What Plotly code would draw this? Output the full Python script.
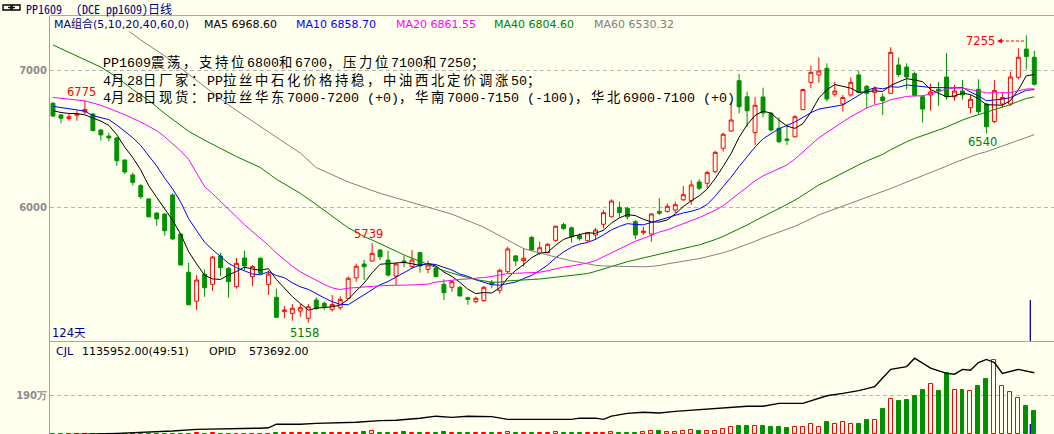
import plotly.graph_objects as go

# ------------------------------------------------------------------ data
days = list(range(124))

opens = [6759, 6674, 6647, 6672, 6696, 6681, 6564, 6520, 6506, 6345,
         6236, 6158, 6061, 5958, 5951, 6090, 5805, 5526, 5314, 5511,
         5438, 5645, 5555, 5421, 5630, 5494, 5628, 5438, 5343, 5238,
         5226, 5243, 5190, 5323, 5299, 5255, 5267, 5336, 5485, 5586,
         5608, 5688, 5615, 5498, 5608, 5567, 5669, 5547, 5555, 5438,
         5416, 5416, 5340, 5311, 5318, 5450, 5394, 5530, 5645, 5611,
         5780, 5664, 5669, 5759, 5874, 5850, 5793, 5756, 5798, 5876,
         5931, 6000, 5993, 5895, 5815, 5805, 5970, 5970, 5980, 6055,
         6048, 6185, 6175, 6260, 6431, 6557, 6924, 6807, 6545, 6805,
         6686, 6577, 6499, 6515, 6713, 6912, 6966, 7015, 6825, 6754,
         6820, 6966, 6883, 6839, 6805, 6832, 7039, 7024, 6976, 6807,
         6820, 6861, 6951, 6807, 6849, 6727, 6861, 6754, 6626, 6754,
         6754, 6949, 7155, 7095]
highs = [6769, 6681, 6681, 6705, 6775, 6688, 6570, 6545, 6513, 6350,
         6253, 6170, 6066, 5962, 5955, 6102, 5810, 5596, 5506, 5547,
         5645, 5669, 5564, 5630, 5683, 5579, 5635, 5537, 5406, 5279,
         5294, 5294, 5294, 5343, 5311, 5360, 5350, 5495, 5589, 5615,
         5739, 5696, 5683, 5591, 5645, 5688, 5676, 5611, 5560, 5474,
         5469, 5426, 5348, 5348, 5426, 5469, 5552, 5713, 5652, 5701,
         5791, 5749, 5739, 5867, 5888, 5859, 5810, 5820, 5851, 5980,
         6058, 6041, 6004, 5907, 5859, 5957, 6066, 6029, 6041, 6155,
         6197, 6204, 6267, 6413, 6545, 6763, 6973, 6844, 6805, 6873,
         6696, 6657, 6606, 6674, 6866, 7034, 7095, 7051, 6915, 6820,
         6949, 6997, 6893, 6883, 6832, 7168, 7095, 7051, 6990, 6820,
         6902, 6915, 7127, 6893, 6929, 6820, 6934, 6763, 6929, 6836,
         6990, 7161, 7255, 7144]
lows = [6660, 6613, 6632, 6632, 6681, 6555, 6486, 6482, 6301, 6243,
        6161, 6061, 5925, 5866, 5793, 5761, 5575, 5285, 5250, 5347,
        5390, 5499, 5340, 5406, 5542, 5425, 5510, 5360, 5192, 5190,
        5172, 5201, 5158, 5250, 5250, 5238, 5250, 5330, 5457, 5469,
        5603, 5615, 5494, 5433, 5562, 5555, 5523, 5518, 5490, 5323,
        5384, 5350, 5289, 5299, 5311, 5409, 5369, 5518, 5572, 5567,
        5683, 5652, 5664, 5749, 5834, 5742, 5756, 5749, 5761, 5846,
        5926, 5926, 5912, 5766, 5798, 5749, 5943, 5961, 5957, 6047,
        6018, 6126, 6139, 6248, 6406, 6552, 6686, 6588, 6455, 6657,
        6552, 6467, 6455, 6510, 6710, 6869, 6910, 6771, 6807, 6698,
        6807, 6832, 6723, 6754, 6674, 6827, 6951, 6861, 6807, 6618,
        6706, 6740, 6786, 6778, 6786, 6686, 6674, 6540, 6613, 6729,
        6739, 6934, 7007, 6888]
closes = [6666, 6650, 6661, 6681, 6715, 6560, 6528, 6506, 6340, 6258,
          6182, 6077, 5931, 5915, 5829, 5769, 5579, 5289, 5469, 5413,
          5637, 5559, 5457, 5591, 5572, 5567, 5518, 5513, 5197, 5250,
          5263, 5267, 5274, 5263, 5274, 5291, 5328, 5482, 5570, 5566,
          5664, 5639, 5505, 5586, 5596, 5615, 5572, 5579, 5494, 5377,
          5457, 5353, 5328, 5336, 5416, 5438, 5540, 5696, 5608, 5628,
          5688, 5705, 5730, 5862, 5845, 5785, 5771, 5813, 5834, 5961,
          6046, 5961, 5931, 5798, 5826, 5951, 5957, 6007, 6019, 6092,
          6163, 6139, 6253, 6401, 6533, 6637, 6734, 6705, 6745, 6688,
          6564, 6479, 6489, 6661, 6860, 6985, 6995, 6791, 6849, 6801,
          6912, 6839, 6832, 6866, 6778, 7131, 6969, 6951, 6817, 6717,
          6842, 6849, 6807, 6849, 6820, 6788, 6698, 6588, 6852, 6801,
          6951, 7095, 7101, 6898]

volumes = [12000, 10000, 9000, 11000, 14000, 13000, 10000, 9000, 15000, 12000,
           11000, 10000, 13000, 9000, 12000, 15000, 14000, 15000, 50000, 15000,
           50000, 15000, 14000, 15000, 13000, 15000, 14000, 15000, 55000, 50000,
           55000, 50000, 55000, 50000, 55000, 50000, 55000, 50000, 55000, 125000,
           175000, 55000, 50000, 55000, 110000, 50000, 55000, 50000, 55000, 100000,
           50000, 55000, 50000, 55000, 50000, 55000, 50000, 100000, 50000, 55000,
           50000, 55000, 50000, 100000, 55000, 50000, 55000, 50000, 55000, 50000,
           100000, 55000, 50000, 55000, 100000, 175000, 150000, 100000, 100000, 150000,
           210000, 150000, 150000, 150000, 260000, 340000, 400000, 400000, 404000, 404000,
           355000, 355000, 307000, 355000, 355000, 487000, 355000, 600000, 487000, 584000,
           487000, 487000, 696000, 696000, 1232000, 1705000, 1622000, 1670000, 1865000, 2157000,
           2450000, 2109000, 2971000, 2157000, 2157000, 2109000, 2352000, 2693000, 3618000, 2352000,
           2060000, 1753000, 1378000, 1135952]

opid_days = [0, 8, 15, 18, 26, 27, 28, 31, 33, 38,
             41, 43, 46, 48, 50, 52, 55, 57, 65, 66,
             68, 69, 70, 72, 74, 76, 78, 80, 83, 85,
             87, 89, 91, 94, 97, 99, 101, 103, 105, 107,
             108, 110, 112, 113, 114, 115, 116, 117, 118, 119,
             121, 123]
opid_values = [418000, 422000, 428000, 432000, 435000, 436000, 445000, 445000, 447000, 450000,
               454000, 455000, 460000, 465000, 462000, 465000, 464000, 457000, 457000, 460000,
               460000, 457000, 465000, 472000, 475000, 473000, 477000, 480000, 484000, 487000,
               490000, 490000, 497000, 497000, 516000, 522000, 529000, 539000, 582000, 589000,
               610000, 585000, 572000, 570000, 582000, 580000, 599000, 607000, 599000, 572000,
               582000, 573692]

# moving-average values read off the chart where the window reaches back
# before the first visible day
ma5_lead_days = [0, 1, 2, 3]
ma5_lead = [6705, 6692, 6685, 6684]
ma10_lead_days = [0, 1, 2, 3, 4, 5, 6, 7, 8]
ma10_lead = [6737, 6727, 6720, 6712, 6702, 6669, 6652, 6640, 6600]
ma20_lead_days = [0, 4, 6, 8, 9, 11, 13, 14, 16, 17, 18]
ma20_lead = [6802, 6777, 6745, 6700, 6676, 6622, 6560, 6515, 6412, 6350, 6250]
ma40_lead_days = [0, 2, 4, 6, 8, 10, 12, 14, 17, 19, 23, 26, 28, 31, 33, 35, 37, 38]
ma40_lead = [7185, 7130, 7080, 7023, 6950, 6860, 6780, 6685, 6555, 6490,
             6370, 6290, 6205, 6102, 6020, 5935, 5850, 5820]
ma60_lead_days = [5, 7, 9, 11, 14, 18, 22, 27, 31, 33, 35, 37, 41, 45, 50, 54]
ma60_lead = [7470, 7395, 7309, 7221, 7105, 6929, 6747, 6550, 6396, 6290,
             6240, 6185, 6102, 6035, 5950, 5855]

price_ticks = [6000, 7000]
price_tick_text = ["6000", "7000"]
vol_ticks = [1900000]
vol_tick_text = ["190万"]

title_code = "PP1609"
title_rest = "(DCE pp1609)日线"
ma_header_texts = ["MA组合(5,10,20,40,60,0)", "MA5 6968.60", "MA10 6858.70",
                   "MA20 6861.55", "MA40 6804.60", "MA60 6530.32"]
vol_header_texts = ["CJL", "1135952.00(49:51)", "OPID", "573692.00"]
note_lines = ["PP1609震荡，支持位6800和6700，压力位7100和7250；",
              "4月28日厂家：PP拉丝中石化价格持稳，中油西北定价调涨50；",
              "4月28日现货：PP拉丝华东7000-7200 (+0)，华南7000-7150 (-100)，华北6900-7100 (+0)"]
days_label = "124天"
high_labels = [(4, 6775), (40, 5739), (122, 7255)]
low_labels = [(32, 5158), (117, 6540)]

# ------------------------------------------------------------------ style / calibration
W, H = 1054, 434
BG = "#FFFFEE"
RED = "#FF0000"
GREEN = "#009000"
NAVY = "#000080"
MA_COLORS = ["#000000", "#0000FF", "#FF00FF", "#008000", "#808080"]
SANS = "DejaVu Sans, Noto Sans CJK SC"
MONO_CJK = "Noto Sans Mono CJK SC, Noto Sans CJK SC, Liberation Mono"
NOTE_FONT = "Liberation Mono, Noto Sans Mono CJK SC, Noto Sans CJK SC"
NOTE_SIZE = 13.33          # Latin cell 8 px
CJK_EXTRA = 2.67           # extra spacing so CJK cells are 16 px

X0_PX, PX_PER_DAY = 53.0, 7.978        # pixel x of day 0, pixels per day
Y7000_PX, PX_PER_PT = 70.3, 0.137      # pixel y of 7000, pixels per price point
VOL_ZERO_PX, VOL_PER_PX = 434.3, 48700.0
OPID_REF_PX, OPID_REF, OPID_PER_PX = 372.7, 573692.0, 2500.0
PLOT_L, PLOT_T, SPLIT = 50, 16, 341


def day_at(px):
    return (px - X0_PX) / PX_PER_DAY


def price_at(py):
    return 7000 - (py - Y7000_PX) / PX_PER_PT


def vol_at(py):
    return (VOL_ZERO_PX - py) * VOL_PER_PX


def opid_at(py):
    return OPID_REF + (OPID_REF_PX - py) * OPID_PER_PX


def pxx(px):
    return px / W


def pxy(py):
    return 1 - py / H


def rolling_mean(vals, n):
    return [sum(vals[k - n + 1:k + 1]) / n for k in range(n - 1, len(vals))]


def widen_cjk(s):
    out, run = [], ""
    for ch in s:
        if ord(ch) > 127:
            run += ch
        else:
            if run:
                out.append('<span style="letter-spacing:%.2fpx">%s</span>' % (CJK_EXTRA, run))
                run = ""
            out.append(ch)
    if run:
        out.append('<span style="letter-spacing:%.2fpx">%s</span>' % (CJK_EXTRA, run))
    return "".join(out)


fig = go.Figure()

# candles
fig.add_trace(go.Candlestick(
    x=days, open=opens, high=highs, low=lows, close=closes,
    increasing=dict(line=dict(color=RED, width=1), fillcolor=BG),
    decreasing=dict(line=dict(color=GREEN, width=1), fillcolor=GREEN),
    whiskerwidth=0, hoverinfo="skip", xaxis="x", yaxis="y"))

# moving averages
ma_specs = [(5, ma5_lead_days, ma5_lead), (10, ma10_lead_days, ma10_lead),
            (20, ma20_lead_days, ma20_lead), (40, ma40_lead_days, ma40_lead),
            (60, ma60_lead_days, ma60_lead)]
for (n, lead_days, lead_vals), col in zip(ma_specs, MA_COLORS):
    xs = list(lead_days) + list(range(n - 1, len(closes)))
    ys = list(lead_vals) + rolling_mean(closes, n)
    fig.add_trace(go.Scatter(x=xs, y=ys, mode="lines", line=dict(color=col, width=1),
                             hoverinfo="skip", xaxis="x", yaxis="y"))

# volume bars
up = [c >= o for o, c in zip(opens, closes)]
fig.add_trace(go.Bar(
    x=days, y=volumes, width=0.5,
    marker=dict(color=[BG if u else GREEN for u in up],
                line=dict(color=[RED if u else GREEN for u in up], width=1)),
    hoverinfo="skip", xaxis="x2", yaxis="y2"))

# open interest line
fig.add_trace(go.Scatter(x=opid_days, y=opid_values, mode="lines",
                         line=dict(color="#000000", width=1.4),
                         hoverinfo="skip", xaxis="x2", yaxis="y3"))

axis_common = dict(showgrid=True, gridcolor="#B4B4B4", griddash="4px,3px", gridwidth=1,
                   zeroline=False, ticks="", showline=True, linecolor="#A0A0A0", linewidth=1,
                   tickfont=dict(family="DejaVu Sans", size=10, color="#8C8C8C", weight="bold"),
                   fixedrange=True)

fig.update_layout(
    width=W, height=H, margin=dict(l=0, r=0, t=0, b=0),
    paper_bgcolor=BG, plot_bgcolor=BG, showlegend=False, bargap=0,
    xaxis=dict(domain=[PLOT_L / W, 1], range=[day_at(PLOT_L), day_at(W)],
               showticklabels=False, showgrid=False, zeroline=False, showline=False,
               rangeslider=dict(visible=False), anchor="y", fixedrange=True),
    xaxis2=dict(domain=[PLOT_L / W, 1], matches="x", showticklabels=False, showgrid=False,
                zeroline=False, showline=False, anchor="y2", fixedrange=True),
    yaxis=dict(domain=[(H - SPLIT) / H, (H - PLOT_T) / H],
               range=[price_at(SPLIT), price_at(PLOT_T)],
               tickvals=price_ticks, ticktext=price_tick_text, anchor="x", **axis_common),
    yaxis2=dict(domain=[0, (H - SPLIT) / H], range=[vol_at(H), vol_at(SPLIT)],
                tickvals=vol_ticks, ticktext=vol_tick_text, anchor="x2", **axis_common),
    yaxis3=dict(overlaying="y2", anchor="x2", range=[opid_at(H), opid_at(SPLIT)],
                visible=False, fixedrange=True),
)

shapes = [
    dict(type="line", xref="paper", yref="paper", x0=pxx(PLOT_L), x1=1,
         y0=pxy(15.5), y1=pxy(15.5), line=dict(color="#A8A8A8", width=1)),
    dict(type="line", xref="paper", yref="paper", x0=pxx(PLOT_L), x1=1,
         y0=pxy(341.5), y1=pxy(341.5), line=dict(color="#A8A8A8", width=1)),
    # cursor marker
    dict(type="line", xref="x", yref="y", x0=122.5, x1=122.5,
         y0=price_at(SPLIT), y1=price_at(300), line=dict(color="#0000A0", width=1.3)),
    dict(type="line", xref="x2", yref="y2", x0=122.5, x1=122.5,
         y0=vol_at(H), y1=vol_at(424), line=dict(color="#0000A0", width=1.3)),
    # link icon
    dict(type="rect", xref="paper", yref="paper", x0=pxx(3), x1=pxx(11), y0=pxy(10), y1=pxy(5),
         line=dict(color="#000000", width=1.4)),
    dict(type="rect", xref="paper", yref="paper", x0=pxx(12), x1=pxx(20), y0=pxy(10), y1=pxy(5),
         line=dict(color="#000000", width=1.4)),
    dict(type="line", xref="paper", yref="paper", x0=pxx(8), x1=pxx(15), y0=pxy(7.5), y1=pxy(7.5),
         line=dict(color="#000000", width=1.4)),
    # dashed pointer toward the 7255 label
    dict(type="line", xref="x", yref="y", x0=day_at(1001), x1=day_at(1024),
         y0=price_at(41), y1=price_at(41), line=dict(color=RED, width=1, dash="3px,2px")),
]

ann = []


def text_at(text, x_px, y_px, color, size, family, xanchor="left", bg=None):
    a = dict(text=text, xref="paper", yref="paper", x=pxx(x_px), y=pxy(y_px),
             xanchor=xanchor, yanchor="middle", showarrow=False, borderpad=0,
             align="left", font=dict(color=color, size=size, family=family))
    if bg:
        a["bgcolor"] = bg
    ann.append(a)


text_at(title_code, 25, 8, NAVY, 12, MONO_CJK)
text_at(title_rest, 75, 8, NAVY, 12, MONO_CJK)
ma_header_x = [53, 203, 295, 395, 493, 593]
ma_header_colors = [NAVY] + MA_COLORS
for t, xp, col in zip(ma_header_texts, ma_header_x, ma_header_colors):
    text_at(t, xp, 24.5, col, 11, SANS, bg=BG)
vol_header_x = [55, 81, 208, 248]
vol_header_colors = [NAVY, "#000000", "#000000", "#000000"]
for t, xp, col in zip(vol_header_texts, vol_header_x, vol_header_colors):
    text_at(t, xp, 351, col, 11, SANS)

# the three-line note
for t, yp in zip(note_lines, [63, 80.3, 97.6]):
    text_at(widen_cjk(t), 102, yp, "#000000", NOTE_SIZE, NOTE_FONT)

text_at(days_label, 51, 332.5, NAVY, 11.5, SANS)

label_px = {4: (81, 92), 40: (368, 234), 122: (980, 41), 32: (304, 333), 117: (982, 142)}
for d, v in high_labels:
    xp, yp = label_px[d]
    text_at(str(v), xp, yp, RED, 11.5, SANS, xanchor="center")
for d, v in low_labels:
    xp, yp = label_px[d]
    text_at(str(v), xp, yp, "#008000", 11.5, SANS, xanchor="center")

# arrow head of the 7255 pointer
ann.append(dict(text="", xref="x", yref="y", x=day_at(997), y=price_at(41),
                ax=7, ay=0, showarrow=True, arrowhead=2, arrowsize=1, arrowwidth=1,
                arrowcolor=RED))

fig.update_layout(shapes=shapes, annotations=ann)
fig.write_html("out.html", config={"displayModeBar": False},
               post_script="document.body.style.margin='0px';document.body.style.overflow='hidden';")
